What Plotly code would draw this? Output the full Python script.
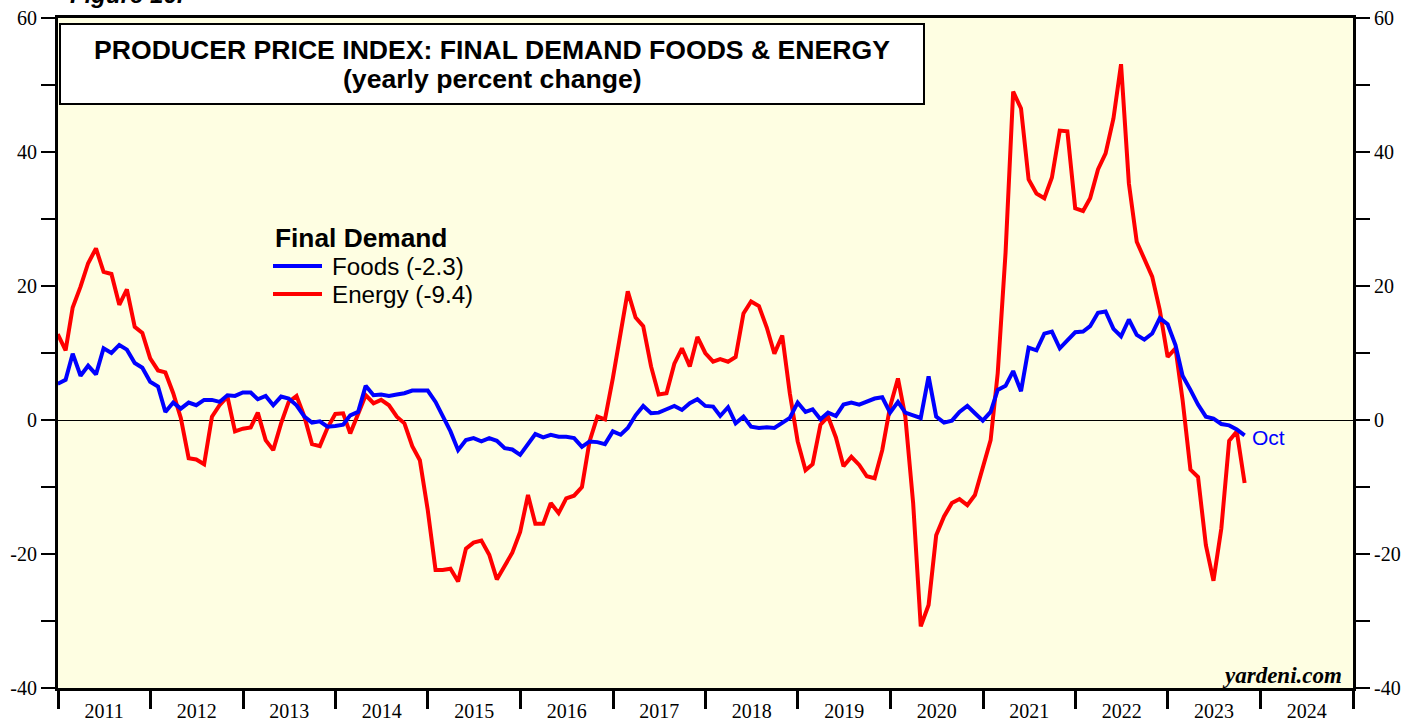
import pandas as pd
import plotly.graph_objects as go

# Monthly observations (month-end), Dec 2010 .. Oct 2023
months = pd.date_range("2010-12-31", "2023-10-31", freq="ME")

foods = [
    5.4, 6.0, 9.9, 6.6, 8.1, 6.8, 10.7, 10.0, 11.2, 10.5, 8.5, 7.8,
    5.7, 5.0, 1.2, 2.6, 1.7, 2.6, 2.2, 3.0, 3.0, 2.7, 3.7, 3.6,
    4.1, 4.1, 3.1, 3.6, 2.2, 3.5, 3.2, 2.2, 0.5, -0.4, -0.2, -1.0,
    -0.9, -0.7, 0.7, 1.2, 5.1, 3.7, 3.8, 3.6, 3.8, 4.0, 4.4, 4.4,
    4.4, 2.7, 0.5, -1.7, -4.5, -3.0, -2.7, -3.2, -2.7, -3.1, -4.2, -4.4,
    -5.2, -3.6, -2.1, -2.6, -2.2, -2.5, -2.5, -2.7, -4.0, -3.2, -3.3, -3.6,
    -1.7, -2.2, -1.2, 0.7, 2.1, 1.0, 1.1, 1.6, 2.1, 1.5, 2.5, 3.1,
    2.1, 2.0, 0.6, 1.9, -0.5, 0.5, -1.0, -1.2, -1.1, -1.2, -0.5, 0.3,
    2.6, 1.2, 1.6, 0.1, 1.1, 0.6, 2.3, 2.6, 2.3, 2.8, 3.2, 3.4,
    1.1, 2.7, 1.1, 0.7, 0.3, 6.5, 0.5, -0.4, -0.1, 1.2, 2.1, 1.0,
    -0.1, 1.2, 4.5, 5.1, 7.3, 4.3, 10.8, 10.4, 12.9, 13.2, 10.7, 11.9,
    13.1, 13.2, 14.0, 16.0, 16.2, 13.6, 12.5, 15.0, 12.7, 12.0, 12.9, 15.2,
    14.3, 11.2, 6.6, 4.5, 2.3, 0.5, 0.2, -0.6, -0.8, -1.4, -2.3,
]

energy = [
    12.8, 10.4, 16.8, 19.9, 23.4, 25.6, 22.1, 21.8, 17.2, 19.5, 13.9, 13.0,
    9.2, 7.4, 7.1, 4.0, 0.3, -5.7, -5.9, -6.6, 0.5, 2.2, 3.5, -1.7,
    -1.3, -1.1, 1.1, -3.0, -4.5, -0.5, 2.7, 3.6, 0.5, -3.6, -3.9, -1.2,
    0.9, 1.0, -2.0, 1.0, 3.7, 2.5, 3.0, 2.2, 0.5, -0.5, -3.9, -6.0,
    -13.4, -22.4, -22.4, -22.2, -24.1, -19.2, -18.3, -18.0, -20.1, -23.8, -21.9, -19.8,
    -16.7, -11.2, -15.5, -15.5, -12.4, -13.9, -11.7, -11.3, -10.0, -3.2, 0.5, 0.1,
    6.2, 12.7, 19.2, 15.3, 14.0, 8.0, 3.8, 4.0, 8.4, 10.7, 8.0, 12.4,
    10.0, 8.7, 9.1, 8.7, 9.4, 15.9, 17.7, 17.0, 13.8, 9.9, 12.6, 4.0,
    -3.2, -7.5, -6.6, -0.7, 0.5, -2.6, -6.9, -5.5, -6.7, -8.4, -8.7, -4.5,
    2.0, 6.2, 0.5, -12.4, -30.8, -27.6, -17.2, -14.4, -12.4, -11.8, -12.7, -11.2,
    -7.2, -3.0, 7.0, 25.0, 49.0, 46.5, 35.9, 33.8, 33.1, 36.2, 43.2, 43.1,
    31.6, 31.2, 33.1, 37.4, 39.8, 45.0, 53.1, 35.3, 26.6, 24.1, 21.4, 16.4,
    9.4, 10.7, 3.0, -7.4, -8.5, -18.7, -24.0, -16.2, -3.1, -1.7, -9.4,
]

y_tickvals = [-40, -30, -20, -10, 0, 10, 20, 30, 40, 50, 60]
y_ticktext = ["-40", "", "-20", "", "0", "", "20", "", "40", "", "60"]

title_line1 = "PRODUCER PRICE INDEX: FINAL DEMAND FOODS & ENERGY"
title_line2 = "(yearly percent change)"
legend_title = "Final Demand"
foods_label = "Foods (-2.3)"
energy_label = "Energy (-9.4)"

RED = "#FF0000"
BLUE = "#0000FF"
BG = "#FEFEE2"
SANS = "Arial, Liberation Sans, sans-serif"
SERIF = "Times New Roman, Liberation Serif, serif"

# pixel geometry helpers (plot area: x 58..1353, y 18..688)
L, R, T, B = 58, 1353, 18, 688
def px(x):
    return (x - L) / (R - L)
def py(y):
    return (B - y) / (B - T)

fig = go.Figure()
fig.add_trace(go.Scatter(x=months, y=energy, mode="lines", name=energy_label,
                         line=dict(color=RED, width=4), showlegend=False))
fig.add_trace(go.Scatter(x=months, y=foods, mode="lines", name=foods_label,
                         line=dict(color=BLUE, width=4), showlegend=False))
# invisible copy so the right-hand axis is drawn
fig.add_trace(go.Scatter(x=months, y=foods, mode="lines", yaxis="y2",
                         opacity=0, hoverinfo="skip", showlegend=False,
                         line=dict(color=BLUE, width=1)))

yaxis_common = dict(
    range=[-40, 60], tickvals=y_tickvals, ticktext=y_ticktext,
    ticks="outside", ticklen=14, tickwidth=1.5, tickcolor="black",
    showline=True, linecolor="black", linewidth=3, showgrid=False,
    tickfont=dict(family=SERIF, size=20, color="black"),
    fixedrange=True, automargin=False,
)

fig.update_layout(
    width=1421, height=723,
    margin=dict(l=L, r=1421 - R, t=T, b=723 - B, pad=0, autoexpand=False),
    paper_bgcolor="white", plot_bgcolor=BG,
    showlegend=False,
    xaxis=dict(
        type="date", range=["2011-01-01", "2025-01-01"],
        tick0="2011-01-01", dtick="M12", tickformat="%Y",
        ticklabelmode="period", ticklabelstandoff=-15,
        ticks="outside", ticklen=18, tickwidth=2.5, tickcolor="black",
        showline=True, linecolor="black", linewidth=3, mirror=True,
        showgrid=False, zeroline=False, automargin=False,
        tickfont=dict(family=SERIF, size=20, color="black"),
    ),
    yaxis=dict(side="left", zeroline=True, zerolinecolor="black",
               zerolinewidth=1, **yaxis_common),
    yaxis2=dict(side="right", overlaying="y", zeroline=False, **yaxis_common),
)

# Title box
fig.add_shape(type="rect", xref="paper", yref="paper",
              x0=px(60), x1=px(924), y0=py(104), y1=py(24),
              fillcolor="white", line=dict(color="black", width=2), layer="above")
fig.add_annotation(text="<b>" + title_line1 + "</b>", xref="paper", yref="paper",
                   x=px(492), y=py(49.5), xanchor="center", yanchor="middle",
                   height=28, showarrow=False,
                   font=dict(family=SANS, size=26.6, color="black"))
fig.add_annotation(text="<b>" + title_line2 + "</b>", xref="paper", yref="paper",
                   x=px(492), y=py(78.5), xanchor="center", yanchor="middle",
                   height=29, showarrow=False,
                   font=dict(family=SANS, size=26.6, color="black"))

# Legend
fig.add_annotation(text="<b>" + legend_title + "</b>", xref="paper", yref="paper",
                   x=px(273), y=py(238), xanchor="left", yanchor="middle",
                   showarrow=False, font=dict(family=SANS, size=26.3, color="black"))
for label, color, yy in [(foods_label, BLUE, 266), (energy_label, RED, 294)]:
    fig.add_shape(type="line", xref="paper", yref="paper",
                  x0=px(273), x1=px(322), y0=py(yy), y1=py(yy),
                  line=dict(color=color, width=4))
    fig.add_annotation(text=label, xref="paper", yref="paper",
                       x=px(330), y=py(yy), xanchor="left", yanchor="middle",
                       showarrow=False, font=dict(family=SANS, size=24.2, color="black"))

# End label
fig.add_annotation(text="Oct", xref="paper", yref="paper",
                   x=px(1250), y=py(437), xanchor="left", yanchor="middle",
                   showarrow=False, font=dict(family=SANS, size=21, color=BLUE))

# Source
fig.add_annotation(text="<b><i>yardeni.com</i></b>", xref="paper", yref="paper",
                   x=px(1344), y=py(675), xanchor="right", yanchor="middle",
                   showarrow=False, font=dict(family=SERIF, size=23, color="black"))

# Figure caption cut off at top (as in the reference)
fig.add_annotation(text="<b><i>Figure 16.</i></b>", xref="paper", yref="paper",
                   x=px(68), y=py(-6), xanchor="left", yanchor="middle",
                   showarrow=False, font=dict(family=SANS, size=24, color="black"))

# the figure is sized to the whole window, so drop the page's default body margin
fig.write_html("out.html", config={"displayModeBar": False},
               post_script="document.body.style.margin='0';document.body.style.overflow='hidden';")
